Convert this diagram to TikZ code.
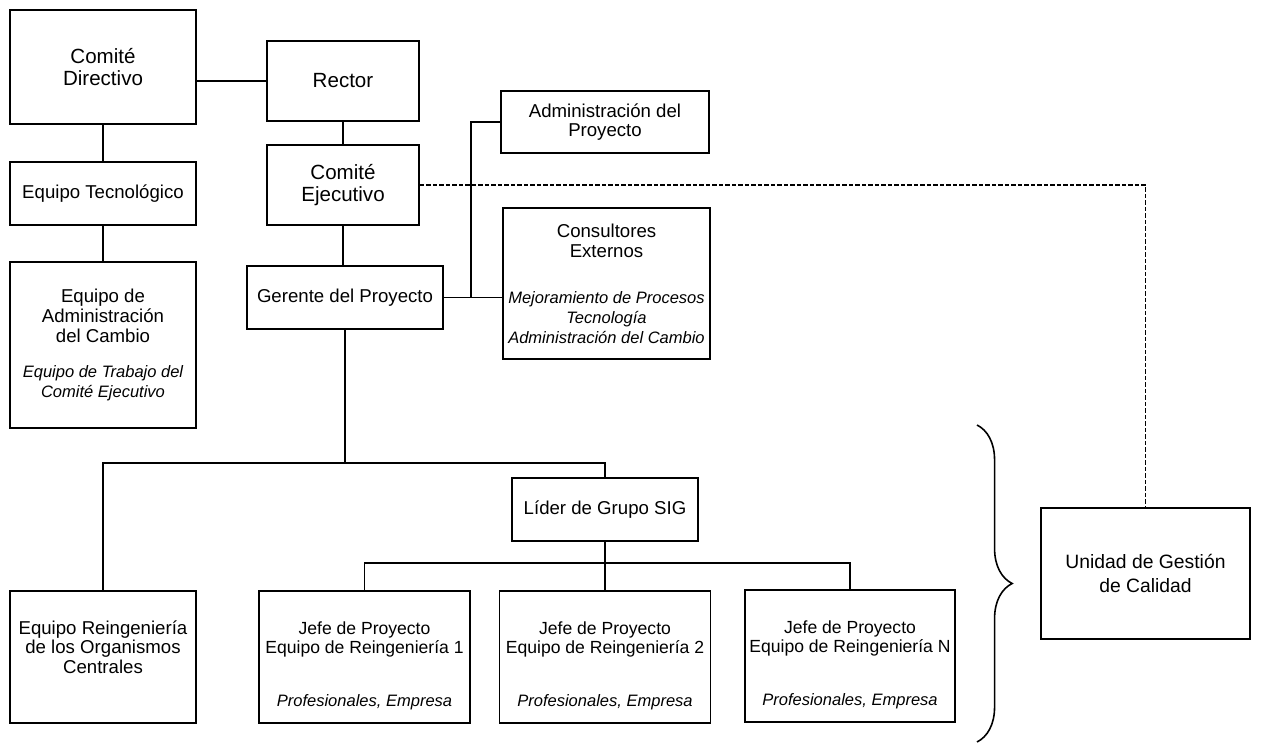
\documentclass[tikz,border=0pt]{standalone}
\usepackage{fontspec}
\setmainfont{Liberation Sans}
\usetikzlibrary{decorations.pathreplacing}
\newcommand{\txtlarge}{\fontsize{11.7}{12.3}\selectfont}
\newcommand{\txtnormal}{\fontsize{10.6}{11.3}\selectfont}
\newcommand{\txtjefe}{\fontsize{10}{10.4}\selectfont}
\newcommand{\txtit}{\fontsize{9.4}{10.8}\selectfont\itshape}
\begin{document}
\begin{tikzpicture}[x=0.02cm, y=-0.02cm,
		box/.style={draw, line width=0.9pt, align=center, inner sep=2pt, font=\txtnormal},
		boxsize/.style 2 args={minimum width=#1*0.02cm, minimum height=#2*0.02cm},
		link/.style={line width=0.9pt},
		qlink/.style={line width=0.9pt, dash pattern=on 2.4pt off 1.3pt}]
	\useasboundingbox (0,0) rectangle (1261,743);
	%left column
	\node[box, boxsize={186}{114}, font=\txtlarge] (cd) at (103,67) {Comité\\Directivo};
	\node[box, boxsize={186}{63}] (et) at (103,193.5) {Equipo Tecnológico};
	\node[box, boxsize={186}{166}] (eac) at (103,345) {Equipo de\\Administración\\del Cambio\\[9pt]{\txtit Equipo de Trabajo del}\\{\txtit Comité Ejecutivo}};
	%middle column
	\node[box, boxsize={152}{80}, font=\txtlarge] (rector) at (343,81) {Rector};
	\node[box, boxsize={152}{80}, font=\txtlarge] (ce) at (343,185) {Comité\\Ejecutivo};
	\node[box, boxsize={196}{63}] (gp) at (345,297.5) {Gerente del Proyecto};
	\node[box, boxsize={208}{62}, font=\fontsize{10.6}{10.4}\selectfont] (ap) at (605,122) {Administración del\\Proyecto};
	\node[box, boxsize={207}{151}] (ceo) at (606.5,283.5) {Consultores\\Externos\\[15pt]{\txtit Mejoramiento de Procesos}\\{\txtit Tecnología}\\{\txtit Administración del Cambio}};
	%reengineering teams
	\node[box, boxsize={186}{63}] (lider) at (605,509.5) {Líder de Grupo SIG};
	\node[box, boxsize={186}{132}] (eroc) at (103,657) {Equipo Reingeniería\\de los Organismos\\Centrales\rule[-11.3pt]{0pt}{11.3pt}};
	\node[box, boxsize={211}{132}, font=\txtjefe] (j1) at (364.5,657) {\rule{0pt}{17.5pt}Jefe de Proyecto\\Equipo de Reingeniería 1\\[20pt]{\txtit Profesionales, Empresa}};
	\node[box, boxsize={211}{132}, font=\txtjefe] (j2) at (605,657) {\rule{0pt}{17.5pt}Jefe de Proyecto\\Equipo de Reingeniería 2\\[20pt]{\txtit Profesionales, Empresa}};
	\node[box, boxsize={210}{132}, font=\txtjefe] (jn) at (850,656) {\rule{0pt}{17.5pt}Jefe de Proyecto\\Equipo de Reingeniería N\\[20pt]{\txtit Profesionales, Empresa}};
	\node[box, boxsize={209}{131}, font=\fontsize{11}{13.4}\selectfont] (ugc) at (1145.5,573.5) {Unidad de Gestión\\de Calidad};
	%connectors
	\draw[link] (rector.west) -- (rector.west -| cd.east);
	\draw[link] (cd.south) -- (et.north);
	\draw[link] (et.south) -- (eac.north);
	\draw[link] (rector.south) -- (ce.north);
	\draw[link] (ce.south) -- (ce.south |- gp.north);
	\draw[link] (gp.east) -- (gp.east -| ceo.west);
	\draw[link] (ap.west) -- ++(-29,0) |- (gp.east);
	\draw[qlink] (ce.east) -| (ugc.north);
	\coordinate (bus) at (345,463);
	\draw[link] (gp.south) -- (bus);
	\draw[link] (eroc.north) |- (bus) -| (lider.north);
	\coordinate (sub) at (605,563);
	\draw[link] (lider.south) -- (j2.north);
	\draw[link] (j1.north) |- (sub) -| (jn.north);
	%brace
	\draw[link, decorate, decoration={brace, amplitude=20pt}] (977,425) -- (977,742);
\end{tikzpicture}
\end{document}
